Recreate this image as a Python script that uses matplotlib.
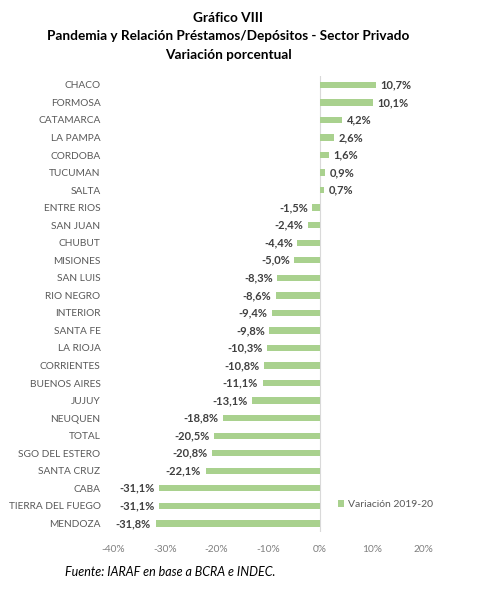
import matplotlib.pyplot as plt
import numpy as np

plt.rcParams['font.family'] = ['Lato', 'DejaVu Sans']

provincias = ['CHACO', 'FORMOSA', 'CATAMARCA', 'LA PAMPA', 'CORDOBA', 'TUCUMAN', 'SALTA',
              'ENTRE RIOS', 'SAN JUAN', 'CHUBUT', 'MISIONES', 'SAN LUIS', 'RIO NEGRO',
              'INTERIOR', 'SANTA FE', 'LA RIOJA', 'CORRIENTES', 'BUENOS AIRES', 'JUJUY',
              'NEUQUEN', 'TOTAL', 'SGO DEL ESTERO', 'SANTA CRUZ', 'CABA',
              'TIERRA DEL FUEGO', 'MENDOZA']
variacion = [10.7, 10.1, 4.2, 2.6, 1.6, 0.9, 0.7, -1.5, -2.4, -4.4, -5.0, -8.3, -8.6,
             -9.4, -9.8, -10.3, -10.8, -11.1, -13.1, -18.8, -20.5, -20.8, -22.1, -31.1,
             -31.1, -31.8]
ticks = [-40, -30, -20, -10, 0, 10, 20]

verde = '#a9d18e'
gris = '#595959'

fig = plt.figure(figsize=(4.98, 6.04), dpi=100)
ax = fig.add_axes([0.227, 0.119, 0.624, 0.755])

y = np.arange(len(provincias))[::-1]
ax.barh(y, variacion, height=0.36, color=verde, label='Variación 2019-20')

for yi, v in zip(y, variacion):
    txt = f'{v:.1f}%'.replace('.', ',')
    if v >= 0:
        ax.text(v + 0.9, yi, txt, va='center', ha='left', fontsize=8,
                fontweight='bold', color='#404040')
    else:
        ax.text(v - 0.9, yi, txt, va='center', ha='right', fontsize=8,
                fontweight='bold', color='#404040')

ax.set_xlim(-40, 20)
ax.set_ylim(-0.5, len(provincias) - 0.5)
ax.set_yticks(y)
ax.set_yticklabels(provincias, fontsize=7.3, color=gris)
ax.set_xticks(ticks)
ax.set_xticklabels([f'{t}%' for t in ticks], fontsize=7.3, color='#7f7f7f')
ax.tick_params(length=0)
ax.tick_params(axis='x', pad=9)
ax.tick_params(axis='y', pad=9)
for s in ax.spines.values():
    s.set_visible(False)
ax.axvline(0, color='#d9d9d9', linewidth=0.8, zorder=0)

fig.legend(loc='center left', bbox_to_anchor=(0.66, 0.164), frameon=False,
           fontsize=7.5, handlelength=0.6, handleheight=0.6, handletextpad=0.4,
           labelcolor=gris)

cx = 0.458
fig.text(cx, 0.970, 'Gráfico VIII', ha='center', va='center', fontsize=9.8, fontweight='bold')
fig.text(cx, 0.940, 'Pandemia y Relación Préstamos/Depósitos - Sector Privado',
         ha='center', va='center', fontsize=9.8, fontweight='bold')
fig.text(cx, 0.909, 'Variación porcentual', ha='center', va='center', fontsize=9.8,
         fontweight='bold')
fig.text(0.131, 0.053, 'Fuente: IARAF en base a BCRA e INDEC.', ha='left', va='center',
         fontsize=9, style='italic')

fig.savefig('out.png', dpi=100)
